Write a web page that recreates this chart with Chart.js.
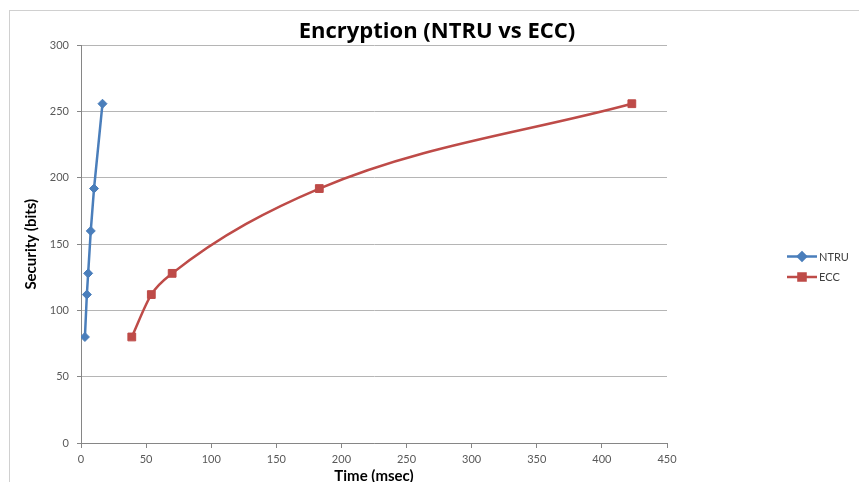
<!DOCTYPE html>
<html>
<head>
<meta charset="utf-8">
<script src="https://cdn.jsdelivr.net/npm/chart.js@4.4.0/dist/chart.umd.min.js"></script>
<style>
  html, body { margin: 0; padding: 0; background: #fff; overflow: hidden; }
  #frame { position: absolute; left: 9px; top: 10px; width: 900px; height: 500px; border: 1px solid #d0d0d0; }
  #wrap { position: absolute; left: 0; top: 0; width: 859px; height: 487px; }
</style>
</head>
<body>
<div id="frame"></div>
<div id="wrap"><canvas id="chart"></canvas></div>
<script>
// values
const ntruTime = [3, 4.5, 5.5, 7.5, 10, 16.5];
const ntruSecurity = [80, 112, 128, 160, 192, 256];
const eccTime = [39, 54, 70, 183, 423];
const eccSecurity = [80, 112, 128, 192, 256];
const seriesNames = ['NTRU', 'ECC'];

const FONT = 'Lato, "Open Sans", sans-serif';
const blue = '#4A7EBB';
const red = '#BE4B48';

function toPoints(xs, ys) {
    return xs.map((x, i) => ({ x: x, y: ys[i] }));
}

// legend drawn by hand, Excel style (line through marker)
const sideLegend = {
    id: 'sideLegend',
    afterDraw(chart) {
        const ctx = chart.ctx;
        const rows = [256.5, 277];
        chart.data.datasets.forEach((ds, i) => {
            const y = rows[i];
            ctx.save();
            ctx.strokeStyle = ds.borderColor;
            ctx.lineWidth = 2.5;
            ctx.beginPath();
            ctx.moveTo(787, y);
            ctx.lineTo(817, y);
            ctx.stroke();
            Chart.helpers.drawPoint(ctx, {
                pointStyle: ds.pointStyle,
                radius: ds.pointStyle === 'rect' ? 5 : 4,
                borderWidth: 1
            }, 802, y);
            ctx.fillStyle = ds.borderColor;
            ctx.fill();
            ctx.fillStyle = '#404040';
            ctx.font = '11px ' + FONT;
            ctx.textBaseline = 'middle';
            ctx.fillText(ds.label, 819, y + 0.5);
            ctx.restore();
        });
    }
};

new Chart(document.getElementById('chart'), {
    type: 'line',
    data: {
        datasets: [{
            label: seriesNames[0],
            data: toPoints(ntruTime, ntruSecurity),
            borderColor: blue,
            backgroundColor: blue,
            borderWidth: 2.5,
            pointStyle: 'rectRot',
            pointRadius: 4.5,
            pointBorderWidth: 1,
            tension: 0
        }, {
            label: seriesNames[1],
            data: toPoints(eccTime, eccSecurity),
            borderColor: red,
            backgroundColor: red,
            borderWidth: 2.5,
            pointStyle: 'rect',
            pointRadius: 5.5,
            pointBorderWidth: 1,
            cubicInterpolationMode: 'monotone'
        }]
    },
    options: {
        responsive: true,
        maintainAspectRatio: false,
        animation: false,
        layout: { padding: { left: 15, right: 0, top: 10, bottom: 0 } },
        plugins: {
            legend: { display: false },
            tooltip: { enabled: false },
            title: {
                display: true,
                text: 'Encryption (NTRU vs ECC)',
                color: '#000',
                font: { family: '"Open Sans", sans-serif', size: 22, weight: 'bold' },
                padding: { top: 9, bottom: 0 }
            }
        },
        scales: {
            x: {
                type: 'linear',
                min: 0,
                max: 450,
                ticks: { stepSize: 50, color: '#595959', font: { family: FONT, size: 11 }, padding: 5 },
                grid: { drawOnChartArea: false, drawTicks: true, tickLength: 5, color: '#868686' },
                border: { color: '#868686' },
                title: {
                    display: true,
                    text: 'Time (msec)',
                    color: '#000',
                    font: { family: FONT, size: 15, weight: 'bold' },
                    padding: { top: 2, bottom: 2 }
                },
                afterFit(scale) { scale.height = 44; }
            },
            y: {
                min: 0,
                max: 300,
                ticks: { stepSize: 50, color: '#595959', font: { family: FONT, size: 11 }, padding: 8 },
                grid: { color: '#b5b5b5', tickLength: 4, tickColor: '#868686' },
                border: { color: '#868686' },
                title: {
                    display: true,
                    text: 'Security (bits)',
                    color: '#000',
                    font: { family: FONT, size: 15, weight: 'bold' },
                    padding: { top: 7, bottom: 7 }
                },
                afterFit(scale) { scale.width = 66; }
            },
            spacer: {
                type: 'linear',
                position: 'right',
                display: true,
                ticks: { display: false },
                grid: { display: false },
                border: { display: false },
                afterFit(scale) { scale.width = 192; }
            }
        }
    },
    plugins: [sideLegend]
});
</script>
</body>
</html>
